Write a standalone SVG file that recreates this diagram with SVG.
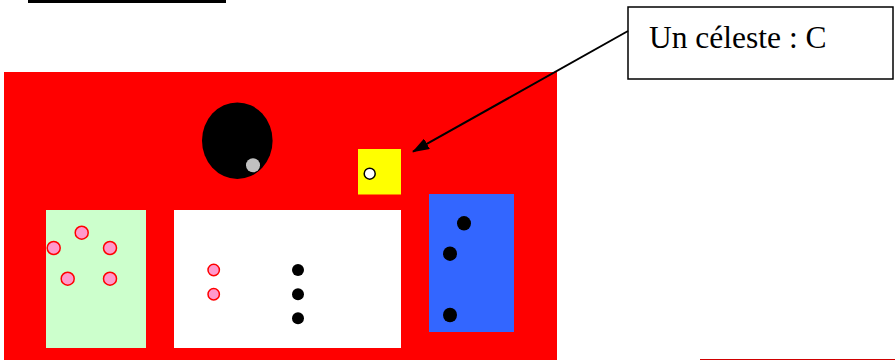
<svg xmlns="http://www.w3.org/2000/svg" width="895" height="360" viewBox="0 0 895 360">
<defs>
<style>
.pink{fill:#ff99cc;stroke:#ff0000;stroke-width:1.5}
.dot{fill:#000}
.lbl{font-family:"Liberation Serif","Times New Roman",serif;font-size:31.5px;fill:#000}
</style>
<marker id="ah" markerWidth="17" markerHeight="12" refX="16" refY="6" orient="auto" markerUnits="userSpaceOnUse" viewBox="0 0 17 12">
<path d="M0,0 L17,6 L0,12 z" fill="#000"/>
</marker>
</defs>
<rect x="0" y="0" width="895" height="360" fill="#fff"/>
<rect x="28" y="0" width="198" height="3" fill="#000"/>
<line x1="700" y1="359.5" x2="895" y2="359.5" stroke="#d00000" stroke-width="1"/>
<g id="field">
<rect x="4" y="72" width="553" height="288" fill="#ff0000"/>
</g>
<g id="black-disc">
<ellipse cx="237.3" cy="140.7" rx="35.3" ry="38.3" fill="#000"/>
<circle cx="253" cy="165.3" r="7" fill="#c0c0c0"/>
</g>
<g id="yellow">
<rect x="358" y="149" width="43" height="45.5" fill="#ffff00"/>
<circle cx="369.7" cy="173.7" r="5.5" fill="#fff" stroke="#000" stroke-width="1.5"/>
</g>
<g id="green">
<rect x="46" y="210" width="100" height="138" fill="#ccffcc"/>
<circle class="pink" cx="81.7" cy="232.7" r="6.5"/>
<circle class="pink" cx="53.7" cy="248" r="6.5"/>
<circle class="pink" cx="110" cy="248" r="6.5"/>
<circle class="pink" cx="67.7" cy="278.7" r="6.5"/>
<circle class="pink" cx="110" cy="278.7" r="6.5"/>
</g>
<g id="white">
<rect x="174" y="210" width="227" height="138" fill="#ffffff"/>
<circle class="pink" cx="213.7" cy="270" r="5.7"/>
<circle class="pink" cx="213.7" cy="294.3" r="5.7"/>
<circle class="dot" cx="298" cy="270" r="6"/>
<circle class="dot" cx="298" cy="294.3" r="6"/>
<circle class="dot" cx="298" cy="318.3" r="6"/>
</g>
<g id="blue">
<rect x="429" y="194" width="85" height="138" fill="#3366ff"/>
<ellipse class="dot" cx="464" cy="223.3" rx="7" ry="7.3"/>
<ellipse class="dot" cx="450" cy="253.7" rx="7" ry="7.3"/>
<ellipse class="dot" cx="450" cy="315" rx="7" ry="7.3"/>
</g>
<g id="label">
<rect x="628" y="7" width="265" height="72" fill="#fff" stroke="#000" stroke-width="1.5"/>
<text class="lbl" x="649" y="48">Un céleste : C</text>
</g>
<g id="connectors">
<line x1="628" y1="31" x2="413" y2="151.7" stroke="#000" stroke-width="2" marker-end="url(#ah)"/>
</g>
</svg>
